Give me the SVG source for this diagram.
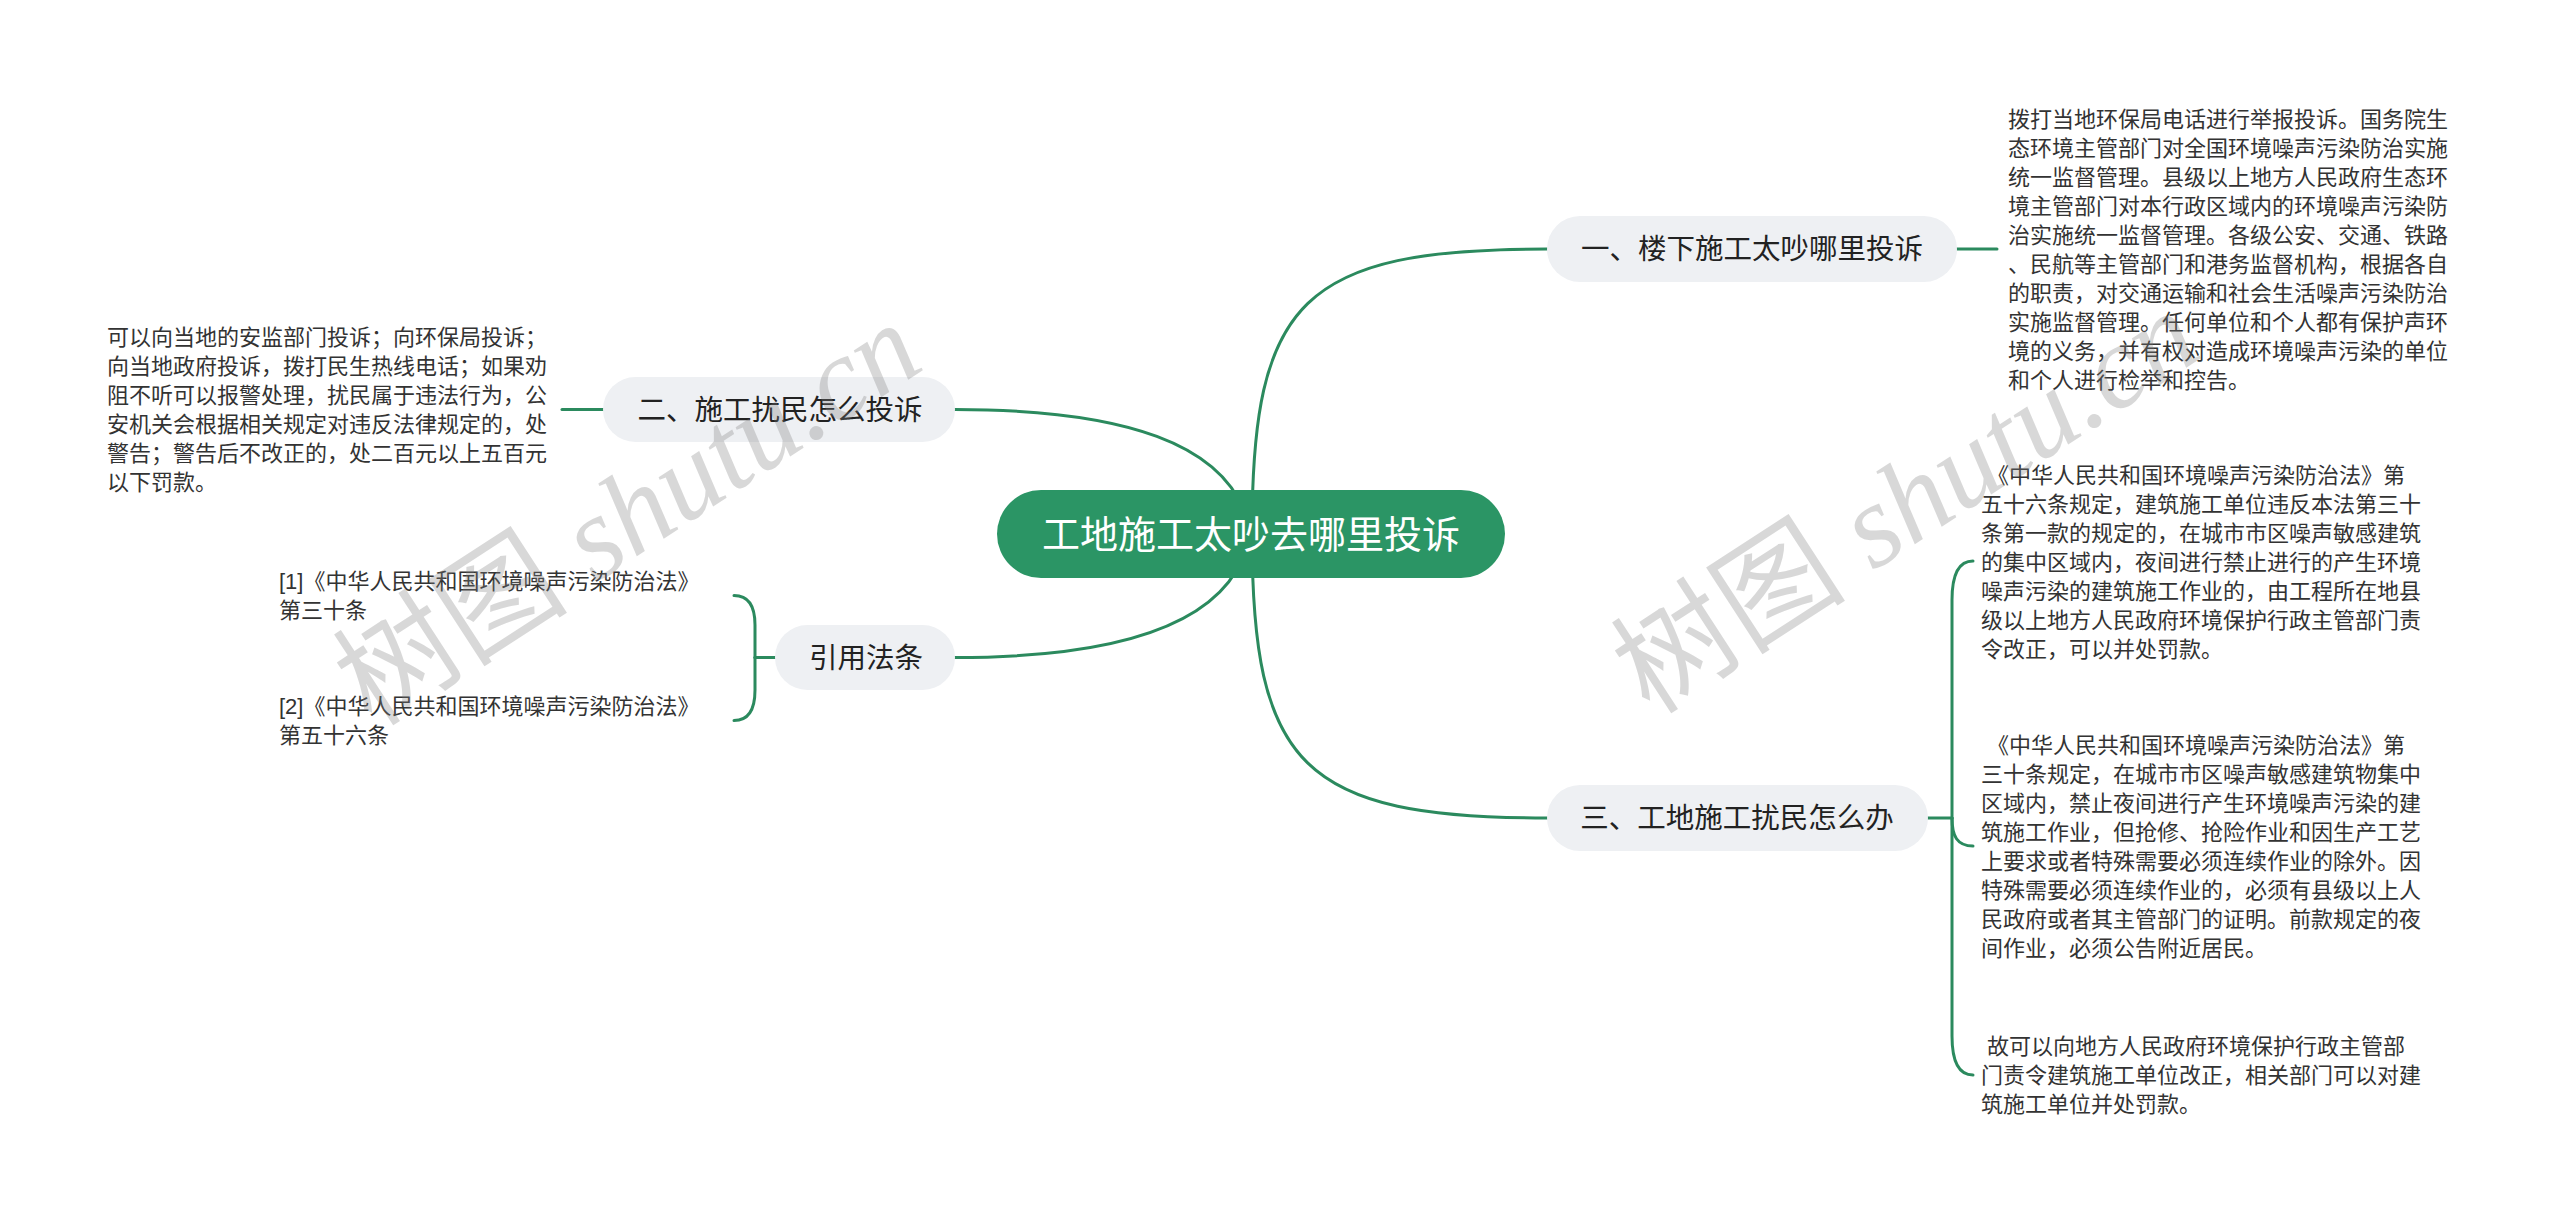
<svg xmlns="http://www.w3.org/2000/svg" width="2560" height="1223" viewBox="0 0 2560 1223">
<style>
.bg{fill:#ffffff}
.conn{fill:none;stroke:#2b8a5e;stroke-width:3;stroke-linecap:round}
.root rect{fill:#2b9565}
.root text{fill:#ffffff;font-size:38px}
.topic rect{fill:#eef0f3}
.topic text{fill:#222222;font-size:28.5px}
text{font-family:"Liberation Sans","Noto Sans CJK SC",sans-serif}
.detail text{fill:#333333;font-size:22px}
.wm{font-family:"Liberation Serif","Noto Sans CJK SC",serif;font-size:118px;fill:#808080;opacity:0.3}
</style>
<rect class="bg" x="0" y="0" width="2560" height="1223"/>
<g id="connectors">
<path class="conn" d="M1252,533 C1252,300 1302,249 1547,249"/>
<path class="conn" d="M1252,533 C1252,766 1302,818 1547,818"/>
<path class="conn" d="M1250,533 C1235,440 1115,409.5 955,409.5"/>
<path class="conn" d="M1250,533 C1235,626 1115,657.5 955,657.5"/>
<path class="conn" d="M1957,249 L1997,249"/>
<path class="conn" d="M603,409.5 L562,409.5"/>
<path class="conn" d="M1928,818 L1952,818"/>
<path class="conn" d="M1952,818 L1952,600 C1952,576 1958,561 1973,561"/>
<path class="conn" d="M1952,818 C1952,836 1957,846 1973,846"/>
<path class="conn" d="M1952,818 L1952,1036 C1952,1060 1958,1075 1973,1075"/>
<path class="conn" d="M775,657.5 L755,657.5"/>
<path class="conn" d="M755,657.5 L755,625 C755,606 749,595.5 734,595.5"/>
<path class="conn" d="M755,657.5 L755,690 C755,709 749,720.5 734,720.5"/>
</g>
<g id="root" class="root">
<rect x="997" y="490" width="508" height="88" rx="44"/>
<text x="1251" y="548" text-anchor="middle">工地施工太吵去哪里投诉</text>
</g>
<g id="topic1" class="topic">
<rect x="1547" y="216" width="410" height="66" rx="33"/>
<text x="1752" y="259" text-anchor="middle">一、楼下施工太吵哪里投诉</text>
</g>
<g id="topic2" class="topic">
<rect x="603" y="377" width="352" height="65" rx="32.5"/>
<text x="780" y="420" text-anchor="middle">二、施工扰民怎么投诉</text>
</g>
<g id="topic3" class="topic">
<rect x="1547" y="785" width="381" height="66" rx="33"/>
<text x="1737" y="828" text-anchor="middle">三、工地施工扰民怎么办</text>
</g>
<g id="topic4" class="topic">
<rect x="775" y="625" width="180" height="65" rx="32.5"/>
<text x="866" y="668" text-anchor="middle">引用法条</text>
</g>
<g id="detail1" class="detail">
<text>
<tspan x="2008" y="126.5">拨打当地环保局电话进行举报投诉。国务院生</tspan>
<tspan x="2008" y="155.5">态环境主管部门对全国环境噪声污染防治实施</tspan>
<tspan x="2008" y="184.5">统一监督管理。县级以上地方人民政府生态环</tspan>
<tspan x="2008" y="213.5">境主管部门对本行政区域内的环境噪声污染防</tspan>
<tspan x="2008" y="242.5">治实施统一监督管理。各级公安、交通、铁路</tspan>
<tspan x="2008" y="271.5">、民航等主管部门和港务监督机构，根据各自</tspan>
<tspan x="2008" y="300.5">的职责，对交通运输和社会生活噪声污染防治</tspan>
<tspan x="2008" y="329.5">实施监督管理。任何单位和个人都有保护声环</tspan>
<tspan x="2008" y="358.5">境的义务，并有权对造成环境噪声污染的单位</tspan>
<tspan x="2008" y="387.5">和个人进行检举和控告。</tspan>
</text>
</g>
<g id="detail2" class="detail">
<text>
<tspan x="107" y="345">可以向当地的安监部门投诉；向环保局投诉；</tspan>
<tspan x="107" y="374">向当地政府投诉，拨打民生热线电话；如果劝</tspan>
<tspan x="107" y="403">阻不听可以报警处理，扰民属于违法行为，公</tspan>
<tspan x="107" y="432">安机关会根据相关规定对违反法律规定的，处</tspan>
<tspan x="107" y="461">警告；警告后不改正的，处二百元以上五百元</tspan>
<tspan x="107" y="490">以下罚款。</tspan>
</text>
</g>
<g id="detail3a" class="detail">
<text xml:space="preserve">
<tspan x="1981" y="482.5"> 《中华人民共和国环境噪声污染防治法》第</tspan>
<tspan x="1981" y="511.5">五十六条规定，建筑施工单位违反本法第三十</tspan>
<tspan x="1981" y="540.5">条第一款的规定的，在城市市区噪声敏感建筑</tspan>
<tspan x="1981" y="569.5">的集中区域内，夜间进行禁止进行的产生环境</tspan>
<tspan x="1981" y="598.5">噪声污染的建筑施工作业的，由工程所在地县</tspan>
<tspan x="1981" y="627.5">级以上地方人民政府环境保护行政主管部门责</tspan>
<tspan x="1981" y="656.5">令改正，可以并处罚款。</tspan>
</text>
</g>
<g id="detail3b" class="detail">
<text xml:space="preserve">
<tspan x="1981" y="752.5"> 《中华人民共和国环境噪声污染防治法》第</tspan>
<tspan x="1981" y="781.5">三十条规定，在城市市区噪声敏感建筑物集中</tspan>
<tspan x="1981" y="810.5">区域内，禁止夜间进行产生环境噪声污染的建</tspan>
<tspan x="1981" y="839.5">筑施工作业，但抢修、抢险作业和因生产工艺</tspan>
<tspan x="1981" y="868.5">上要求或者特殊需要必须连续作业的除外。因</tspan>
<tspan x="1981" y="897.5">特殊需要必须连续作业的，必须有县级以上人</tspan>
<tspan x="1981" y="926.5">民政府或者其主管部门的证明。前款规定的夜</tspan>
<tspan x="1981" y="955.5">间作业，必须公告附近居民。</tspan>
</text>
</g>
<g id="detail3c" class="detail">
<text xml:space="preserve">
<tspan x="1981" y="1054"> 故可以向地方人民政府环境保护行政主管部</tspan>
<tspan x="1981" y="1083">门责令建筑施工单位改正，相关部门可以对建</tspan>
<tspan x="1981" y="1112">筑施工单位并处罚款。</tspan>
</text>
</g>
<g id="ref1" class="detail">
<text>
<tspan x="279" y="589">[1]《中华人民共和国环境噪声污染防治法》</tspan>
<tspan x="279" y="618">第三十条</tspan>
</text>
</g>
<g id="ref2" class="detail">
<text>
<tspan x="279" y="714">[2]《中华人民共和国环境噪声污染防治法》</tspan>
<tspan x="279" y="743">第五十六条</tspan>
</text>
</g>
<g id="watermarks">
<text class="wm" transform="translate(372,728) rotate(-33)">树图 <tspan font-style="italic">shutu.cn</tspan></text>
<text class="wm" transform="translate(1650,716) rotate(-33)">树图 <tspan font-style="italic">shutu.cn</tspan></text>
</g>
</svg>
